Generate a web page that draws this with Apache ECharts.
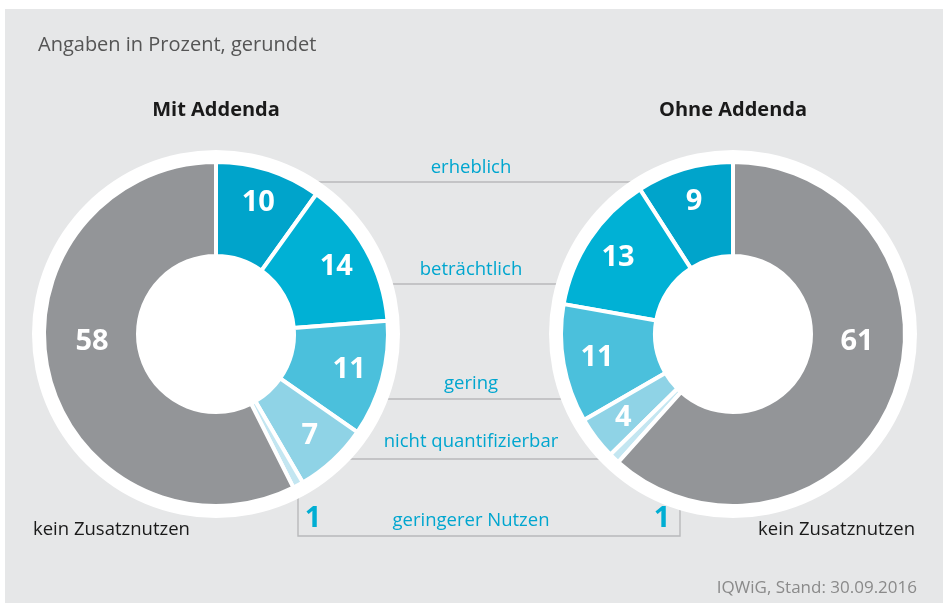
<!DOCTYPE html>
<html>
<head>
<meta charset="utf-8">
<script src="https://cdn.jsdelivr.net/npm/echarts@6.0.0/dist/echarts.min.js"></script>
<style>
  html, body { margin: 0; padding: 0; background: #fff; }
  #panel { position: absolute; left: 5px; top: 9px; width: 938px; height: 594px; background: #e6e7e8; }
  #chart { position: absolute; left: 0; top: 0; width: 945px; height: 603px; }
</style>
</head>
<body>
<div id="panel"></div>
<div id="chart"></div>
<script>
// data
const categories = ["erheblich", "beträchtlich", "gering", "nicht quantifizierbar", "geringerer Nutzen", "kein Zusatznutzen"];
const mitAddenda = [10, 14, 11, 7, 1, 58];
const ohneAddenda = [9, 13, 11, 4, 1, 61];
const groupTitles = ["Mit Addenda", "Ohne Addenda"];
const subtitle = "Angaben in Prozent, gerundet";
const source = "IQWiG, Stand: 30.09.2016";

// layout
const FONT = "'Open Sans', sans-serif";
const CY = 334;
const LEFT_CX = 216, RIGHT_CX = 733;
const R_DISC = 184, R_IN = 78, R_OUT = 172;
const colors = ["#00a4cb", "#00b1d5", "#4bc0dc", "#8fd3e6", "#c3e6f1", "#939598"];
const lineLevels = [182, 284, 399, 459]; // y of connector lines for the first four categories
const textLevels = [168, 270, 384, 442, 521];
const MID_X = 471;
const LINE_COLOR = "#b8b9bb";
const CYAN = "#00a6cf";

const chart = echarts.init(document.getElementById("chart"), null, { renderer: "canvas" });

function shiftLabel(cx) {
  return function (p) {
    const r = p.labelRect;
    const lx = r.x + r.width / 2, ly = r.y + r.height / 2;
    const vx = lx - cx, vy = ly - CY;
    if (p.dataIndex === 5) {
      const tx = cx + Math.sign(vx) * 124;
      return { dx: tx - lx, dy: CY + 8 - ly };
    }
    const k = 138 / Math.hypot(vx, vy);
    return { dx: vx * k - vx, dy: vy * k - vy };
  };
}

function donut(values, cx, clockwise) {
  return {
    type: "pie",
    center: [cx, CY],
    radius: [R_IN, R_OUT],
    startAngle: 90,
    clockwise: clockwise,
    z: 3,
    silent: true,
    animation: false,
    itemStyle: { borderColor: "#fff", borderWidth: 4 },
    label: {
      show: true, position: "inside", color: "#fff",
      fontFamily: FONT, fontSize: 29, fontWeight: "bold",
      formatter: "{c}"
    },
    labelLine: { show: false },
    labelLayout: shiftLabel(cx),
    data: values.map((v, i) => ({
      name: categories[i],
      value: v,
      itemStyle: { color: colors[i] },
      label: { show: i !== 4 }
    }))
  };
}

function disc(cx) {
  return {
    type: "pie", center: [cx, CY], radius: [0, R_DISC], z: 1, silent: true, animation: false,
    label: { show: false }, labelLine: { show: false },
    itemStyle: { color: "#fff" }, data: [{ value: 1 }]
  };
}

function text(x, y, str, font, fill, align) {
  return { type: "text", z: 10, x: x, y: y, style: { text: str, fill: fill, font: font, align: align || "center", verticalAlign: "middle" } };
}

const graphics = [];
// connector lines (discs hide the inner parts)
lineLevels.forEach((y) => {
  graphics.push({ type: "line", z: 0, shape: { x1: LEFT_CX, y1: y, x2: RIGHT_CX, y2: y }, style: { stroke: LINE_COLOR, lineWidth: 1.4 } });
});
// box for "geringerer Nutzen"
graphics.push({ type: "polyline", z: 0, shape: { points: [[298, 470], [298, 536], [680, 536], [680, 470]] }, style: { stroke: LINE_COLOR, lineWidth: 1.4, fill: null } });
// category texts
categories.slice(0, 5).forEach((c, i) => {
  graphics.push(text(MID_X, textLevels[i], c, "18.5px " + FONT, CYAN));
});
// small-slice values
graphics.push(text(313, 519, String(mitAddenda[4]), "bold 29px " + FONT, "#00aed3"));
graphics.push(text(662, 519, String(ohneAddenda[4]), "bold 29px " + FONT, "#00aed3"));
// titles
graphics.push(text(LEFT_CX, 110, groupTitles[0], "bold 20px " + FONT, "#1a1a1a"));
graphics.push(text(RIGHT_CX, 110, groupTitles[1], "bold 20px " + FONT, "#1a1a1a"));
// kein Zusatznutzen
graphics.push(text(33, 530, categories[5], "18.5px " + FONT, "#1a1a1a", "left"));
graphics.push(text(915, 530, categories[5], "18.5px " + FONT, "#1a1a1a", "right"));
// subtitle and source
graphics.push(text(38, 45, subtitle, "20px " + FONT, "#555", "left"));
graphics.push(text(917, 588, source, "17px " + FONT, "#8a8a8a", "right"));

chart.setOption({
  animation: false,
  series: [disc(LEFT_CX), disc(RIGHT_CX), donut(mitAddenda, LEFT_CX, true), donut(ohneAddenda, RIGHT_CX, false)],
  graphic: graphics
});
</script>
</body>
</html>
